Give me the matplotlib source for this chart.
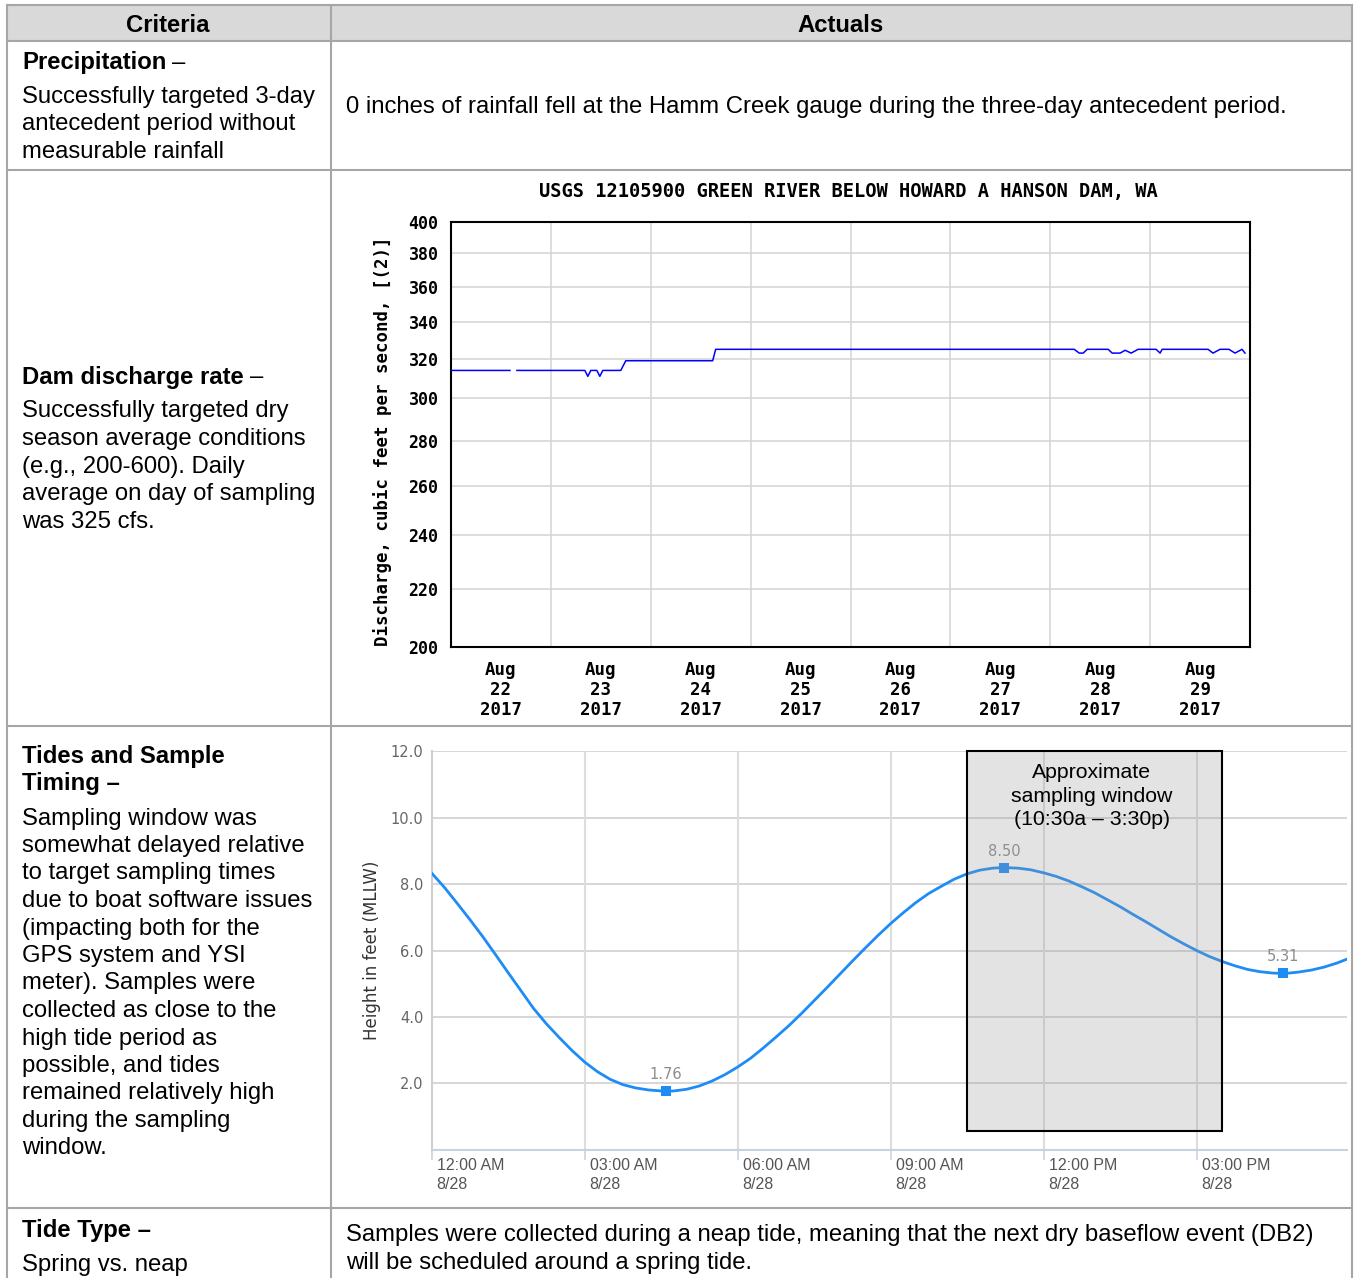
import numpy as np
import matplotlib.pyplot as plt
from matplotlib.patches import Rectangle
from matplotlib.transforms import offset_copy

W, H, DPI = 1356, 1278, 100
SANS = ['Liberation Sans', 'DejaVu Sans']
NARROW = ['Liberation Sans Narrow', 'Liberation Sans', 'DejaVu Sans']
MONO = 'DejaVu Sans Mono'
BODY = 17.2

# USGS 12105900 discharge: days after 2017-08-22 00:00, cfs (nan = data gap)
flow_day = [0.00, 0.59, 0.62, 0.66, 1.34, 1.37, 1.40, 1.46, 1.49, 1.52, 1.70, 1.75, 2.62, 2.65,
            6.24, 6.29, 6.33, 6.37, 6.58, 6.62, 6.70, 6.75, 6.81, 6.88, 7.06, 7.10, 7.12,
            7.58, 7.63, 7.70, 7.79, 7.85, 7.92, 7.95]
flow_cfs = [314, 314, np.nan, 314, 314, 311, 314, 314, 311, 314, 314, 319, 319, 325,
            325, 323, 323, 325, 325, 323, 323, 324.5, 323, 325, 325, 323, 325,
            325, 323, 325, 325, 323, 325, 323]
flow_ticks = [200, 220, 240, 260, 280, 300, 320, 340, 360, 380, 400]
day_labels = ['Aug\n22\n2017', 'Aug\n23\n2017', 'Aug\n24\n2017', 'Aug\n25\n2017',
              'Aug\n26\n2017', 'Aug\n27\n2017', 'Aug\n28\n2017', 'Aug\n29\n2017']

# predicted tide on 8/28: hours after midnight, feet MLLW (quarter-hour readings)
tide_hr = [0, 0.25, 0.5, 0.75, 1, 1.25, 1.5, 1.75, 2, 2.25, 2.5, 2.75, 3, 3.25, 3.5, 3.75,
           4, 4.25, 4.5, 4.59, 4.75, 5, 5.25, 5.5, 5.75, 6, 6.25, 6.5, 6.75, 7, 7.25, 7.5,
           7.75, 8, 8.25, 8.5, 8.75, 9, 9.25, 9.5, 9.75, 10, 10.25, 10.5, 10.75, 11, 11.22,
           11.5, 11.75, 12, 12.25, 12.5, 12.75, 13, 13.25, 13.5, 13.75, 14, 14.25, 14.5,
           14.75, 15, 15.25, 15.5, 15.75, 16, 16.25, 16.5, 16.69, 16.75, 17, 17.25, 17.5,
           17.75, 18]
tide_ft = [8.33, 7.90, 7.42, 6.93, 6.42, 5.88, 5.33, 4.79, 4.25, 3.79, 3.38, 2.99, 2.64,
           2.35, 2.12, 1.96, 1.86, 1.80, 1.77, 1.76, 1.77, 1.82, 1.92, 2.07, 2.26, 2.49,
           2.75, 3.06, 3.39, 3.73, 4.10, 4.49, 4.88, 5.28, 5.68, 6.07, 6.45, 6.81, 7.14,
           7.45, 7.72, 7.94, 8.15, 8.31, 8.42, 8.48, 8.50, 8.48, 8.43, 8.34, 8.23, 8.09,
           7.92, 7.74, 7.53, 7.32, 7.09, 6.87, 6.64, 6.41, 6.20, 6.00, 5.82, 5.67, 5.54,
           5.43, 5.36, 5.32, 5.31, 5.31, 5.35, 5.41, 5.50, 5.62, 5.77]
tide_ext_hr = [4.59, 11.22, 16.69]
tide_ext_ft = [1.76, 8.50, 5.31]
tide_yticks = [2, 4, 6, 8, 10, 12]
tide_xticks = [0, 3, 6, 9, 12, 15]
tide_xlabels = ['12:00 AM\n8/28', '03:00 AM\n8/28', '06:00 AM\n8/28',
                '09:00 AM\n8/28', '12:00 PM\n8/28', '03:00 PM\n8/28']
window_start, window_end = 10.5, 15.5

fig = plt.figure(figsize=(W / DPI, H / DPI), dpi=DPI)
bg = fig.add_axes([0, 0, 1, 1])
bg.set_xlim(0, W)
bg.set_ylim(H, 0)
bg.axis('off')
renderer = fig.canvas.get_renderer()


def px_axes(x0, y0, x1, y1):
    return fig.add_axes([x0 / W, 1 - y1 / H, (x1 - x0) / W, (y1 - y0) / H])


def run(x, y, parts, gap=6):
    # consecutive pieces of one line with mixed weight
    for s, w in parts:
        t = bg.text(x, y + 1.5, s, fontsize=BODY, fontweight=w, family=SANS, va='center')
        x += t.get_window_extent(renderer=renderer).width + gap


def lines(x, y0, rows, step=27.5):
    for i, s in enumerate(rows):
        bg.text(x, y0 + 1.5 + i * step, s, fontsize=BODY, family=SANS, va='center')


# ---- table frame ----
bg.add_patch(Rectangle((7, 5), 1345, 36, fc='#d9d9d9', ec='none'))
bc = '#a6a6a6'
for y in [5, 41, 170, 726, 1208]:
    bg.plot([7, 1352], [y, y], color=bc, lw=1.5)
for x in [7, 331, 1352]:
    bg.plot([x, x], [5, H + 5], color=bc, lw=1.5)

bg.text(168, 25.5, 'Criteria', fontsize=BODY, fontweight='bold', family=SANS, ha='center', va='center')
bg.text(841, 25.5, 'Actuals', fontsize=BODY, fontweight='bold', family=SANS, ha='center', va='center')

run(22, 61, [('Precipitation', 'bold'), ('–', 'normal')])
lines(22, 95, ['Successfully targeted 3-day', 'antecedent period without', 'measurable rainfall'])
lines(346, 106, ['0 inches of rainfall fell at the Hamm Creek gauge during the three-day antecedent period.'])

run(22, 376, [('Dam discharge rate', 'bold'), ('–', 'normal')])
lines(22, 410, ['Successfully targeted dry', 'season average conditions', '(e.g., 200-600). Daily',
                'average on day of sampling', 'was 325 cfs.'])

run(22, 755, [('Tides and Sample', 'bold')])
run(22, 782, [('Timing –', 'bold')])
lines(22, 817, ['Sampling window was', 'somewhat delayed relative', 'to target sampling times',
                'due to boat software issues', '(impacting both for the', 'GPS system and YSI',
                'meter). Samples were', 'collected as close to the', 'high tide period as',
                'possible, and tides', 'remained relatively high', 'during the sampling', 'window.'])

run(22, 1229, [('Tide Type –', 'bold')])
lines(22, 1263, ['Spring vs. neap'])
lines(346, 1233, ['Samples were collected during a neap tide, meaning that the next dry baseflow event (DB2)',
                  'will be scheduled around a spring tide.'], step=28)

# ---- USGS discharge hydrograph ----
ax1 = px_axes(451, 222, 1250, 647)
ax1.plot(flow_day, flow_cfs, color='#0000ff', lw=1.1, zorder=3)
ax1.set_yscale('log')
ax1.set_ylim(200, 400)
ax1.set_xlim(0, 8)
ax1.set_yticks(flow_ticks)
ax1.set_yticklabels([str(v) for v in flow_ticks], family=MONO, fontweight='bold', fontsize=12)
ax1.minorticks_off()
ax1.set_xticks(np.arange(8) + 0.5)
ax1.set_xticklabels(day_labels, family=MONO, fontweight='bold', fontsize=12.5, linespacing=1.13)
ax1.tick_params(length=0)
ax1.tick_params(axis='y', pad=9)
ax1.tick_params(axis='x', pad=10)
for v in flow_ticks[1:-1]:
    ax1.axhline(v, color='#d3d3d3', lw=1.1, zorder=1)
for d in range(1, 8):
    ax1.axvline(d, color='#d3d3d3', lw=1.1, zorder=1)
for s in ax1.spines.values():
    s.set_linewidth(1.5)
bg.text(848, 191, 'USGS 12105900 GREEN RIVER BELOW HOWARD A HANSON DAM, WA',
        family=MONO, fontweight='bold', fontsize=13.5, ha='center', va='center')
bg.text(383, 441, 'Discharge, cubic feet per second, [(2)]', family=MONO, fontweight='bold',
        fontsize=12.5, rotation=90, ha='center', va='center')

# ---- tide prediction ----
ax2 = px_axes(431.7, 751.3, 1347, 1149.7)
ax2.set_xlim(0, 17.95)
ax2.set_ylim(0, 12)
for v in tide_yticks:
    ax2.axhline(v, color='#cccccc', lw=1.1, zorder=1)
for h in tide_xticks[1:]:
    ax2.axvline(h, color='#dddddd', lw=1.5, zorder=1)
ax2.plot(tide_hr, tide_ft, color='#1e8cf5', lw=2.0, zorder=3, solid_joinstyle='round')
ax2.plot(tide_ext_hr, tide_ext_ft, 's', ms=6.5, color='#1e8cf5', mew=0, zorder=4)
for h, v in zip(tide_ext_hr, tide_ext_ft):
    ax2.annotate(f'{v:.2f}', (h, v), xytext=(0, 9), textcoords='offset pixels',
                 ha='center', va='bottom', color='#8c8c8c', fontsize=10.5, family='DejaVu Sans')
ax2.set_yticks(tide_yticks)
ax2.set_yticklabels([f'{v:.1f}' for v in tide_yticks], color='#666666', fontsize=10.5)
ax2.set_xticks(tide_xticks)
ax2.tick_params(axis='y', length=0, pad=6)
ax2.tick_params(axis='x', length=7, width=1.2, color='#c6d4e2', labelbottom=False)
lab_tr = offset_copy(ax2.get_xaxis_transform(), fig=fig, x=5, y=-8, units='dots')
for h, s in zip(tide_xticks, tide_xlabels):
    ax2.text(h, 0, s, transform=lab_tr, ha='left', va='top', color='#555555',
             fontsize=11.5, family=NARROW, linespacing=1.35)
for side in ['top', 'right']:
    ax2.spines[side].set_visible(False)
ax2.spines['left'].set_color('#cfcfcf')
ax2.spines['left'].set_linewidth(1.5)
ax2.spines['bottom'].set_color('#c6d4e2')
ax2.spines['bottom'].set_linewidth(1.5)
bg.text(1224, 1147, 'NOAA/NOS/Center f', fontsize=9.5, family=NARROW, color='#333333',
        va='baseline')
bg.text(372, 950, 'Height in feet (MLLW)', rotation=90, ha='center', va='center',
        fontsize=12, color='#333333', family='DejaVu Sans')

# sampling window overlay
ax2.add_patch(Rectangle((window_start, 0.55), window_end - window_start, 11.45,
                        fc='#999999', alpha=0.265, lw=0, zorder=5))
ax2.add_patch(Rectangle((window_start, 0.55), window_end - window_start, 11.45,
                        fill=False, ec='black', lw=1.5, zorder=6, clip_on=False))
ax2.text((window_start + window_end) / 2, 12, 'Approximate\nsampling window\n(10:30a – 3:30p)',
         transform=offset_copy(ax2.transData, fig=fig, x=-3, y=-12, units='dots'),
         ha='center', va='top', fontsize=15.3, family=SANS, linespacing=1.3, zorder=7)

fig.savefig('out.png', dpi=DPI)
